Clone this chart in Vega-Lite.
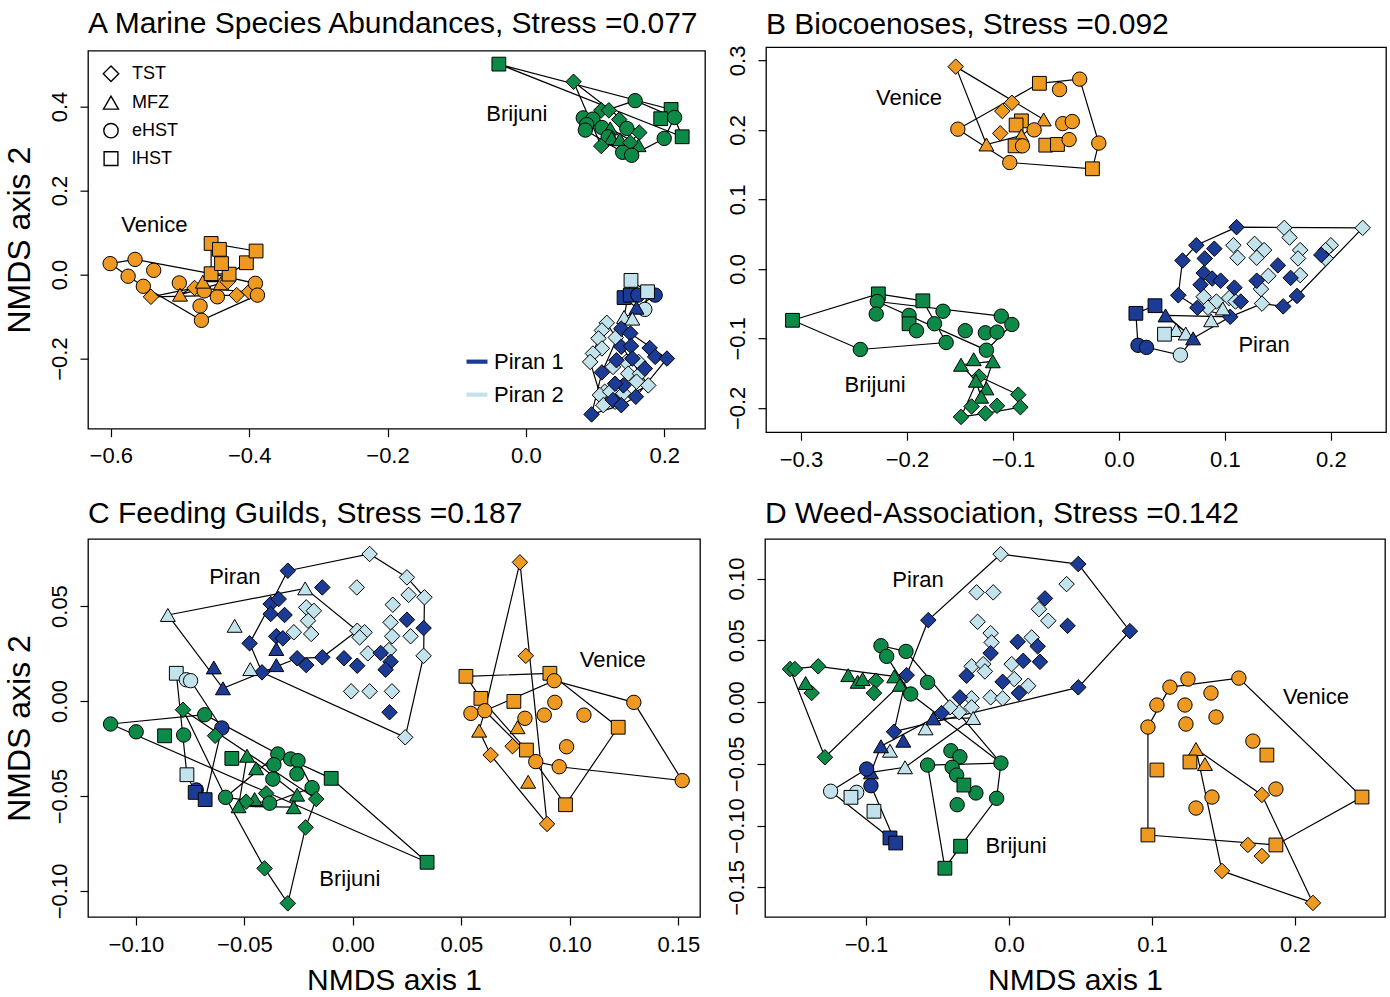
{
  "$schema": "https://vega.github.io/schema/vega-lite/v6.json",
  "background": "white",
  "padding": {"left": 2, "top": 8, "right": 4, "bottom": 0},
  "config": {
    "font": "Liberation Sans",
    "view": {"stroke": "black", "strokeWidth": 1.3},
    "axis": {"domain": false, "grid": false, "tickColor": "black", "tickSize": 8, "tickWidth": 1.2, "labelColor": "black", "labelFontSize": 22, "titleFontWeight": "normal", "titleColor": "black"},
    "axisX": {"labelPadding": 9, "titleFontSize": 30, "titlePadding": 10},
    "axisY": {"labelAngle": -90, "labelPadding": 9, "titleFontSize": 32, "titlePadding": 12},
    "title": {"fontSize": 30, "fontWeight": "normal", "anchor": "start", "frame": "group", "color": "black"},
    "legend": {"labelColor": "black", "labelFont": "Liberation Sans"}
  },
  "datasets": {
    "A_pts": [
      {"s":"Venice","h":"eHST","x":-0.601,"y":0.026},{"s":"Venice","h":"eHST","x":-0.565,"y":0.036},{"s":"Venice","h":"eHST","x":-0.538,"y":0.010},{"s":"Venice","h":"eHST","x":-0.575,"y":-0.004},{"s":"Venice","h":"eHST","x":-0.553,"y":-0.028},{"s":"Venice","h":"TST","x":-0.542,"y":-0.053},{"s":"Venice","h":"eHST","x":-0.501,"y":-0.020},{"s":"Venice","h":"MFZ","x":-0.500,"y":-0.048},{"s":"Venice","h":"TST","x":-0.479,"y":-0.032},{"s":"Venice","h":"eHST","x":-0.465,"y":-0.039},{"s":"Venice","h":"MFZ","x":-0.467,"y":-0.017},{"s":"Venice","h":"eHST","x":-0.471,"y":-0.075},{"s":"Venice","h":"eHST","x":-0.469,"y":-0.109},{"s":"Venice","h":"eHST","x":-0.446,"y":-0.053},{"s":"Venice","h":"MFZ","x":-0.441,"y":-0.021},{"s":"Venice","h":"TST","x":-0.431,"y":-0.017},{"s":"Venice","h":"lHST","x":-0.455,"y":0.002},{"s":"Venice","h":"lHST","x":-0.429,"y":0.001},{"s":"Venice","h":"lHST","x":-0.440,"y":0.026},{"s":"Venice","h":"lHST","x":-0.455,"y":0.074},{"s":"Venice","h":"lHST","x":-0.443,"y":0.060},{"s":"Venice","h":"lHST","x":-0.404,"y":0.028},{"s":"Venice","h":"lHST","x":-0.390,"y":0.056},{"s":"Venice","h":"TST","x":-0.418,"y":-0.049},{"s":"Venice","h":"TST","x":-0.400,"y":-0.041},{"s":"Venice","h":"eHST","x":-0.391,"y":-0.021},{"s":"Venice","h":"eHST","x":-0.388,"y":-0.049},
      {"s":"Brijuni","h":"lHST","x":-0.039,"y":0.501},{"s":"Brijuni","h":"TST","x":0.069,"y":0.459},{"s":"Brijuni","h":"eHST","x":0.158,"y":0.414},{"s":"Brijuni","h":"lHST","x":0.210,"y":0.393},{"s":"Brijuni","h":"lHST","x":0.195,"y":0.371},{"s":"Brijuni","h":"eHST","x":0.215,"y":0.374},{"s":"Brijuni","h":"lHST","x":0.226,"y":0.328},{"s":"Brijuni","h":"eHST","x":0.200,"y":0.324},{"s":"Brijuni","h":"TST","x":0.109,"y":0.391},{"s":"Brijuni","h":"TST","x":0.120,"y":0.391},{"s":"Brijuni","h":"TST","x":0.135,"y":0.369},{"s":"Brijuni","h":"eHST","x":0.083,"y":0.373},{"s":"Brijuni","h":"eHST","x":0.097,"y":0.370},{"s":"Brijuni","h":"eHST","x":0.088,"y":0.357},{"s":"Brijuni","h":"eHST","x":0.086,"y":0.344},{"s":"Brijuni","h":"eHST","x":0.110,"y":0.350},{"s":"Brijuni","h":"eHST","x":0.146,"y":0.348},{"s":"Brijuni","h":"TST","x":0.164,"y":0.338},{"s":"Brijuni","h":"MFZ","x":0.122,"y":0.348},{"s":"Brijuni","h":"eHST","x":0.119,"y":0.328},{"s":"Brijuni","h":"MFZ","x":0.124,"y":0.325},{"s":"Brijuni","h":"MFZ","x":0.136,"y":0.322},{"s":"Brijuni","h":"MFZ","x":0.163,"y":0.308},{"s":"Brijuni","h":"TST","x":0.151,"y":0.314},{"s":"Brijuni","h":"TST","x":0.109,"y":0.306},{"s":"Brijuni","h":"eHST","x":0.140,"y":0.291},{"s":"Brijuni","h":"eHST","x":0.153,"y":0.284},
      {"s":"Piran 2","h":"lHST","x":0.152,"y":-0.014},{"s":"Piran 1","h":"lHST","x":0.142,"y":-0.055},{"s":"Piran 1","h":"lHST","x":0.151,"y":-0.049},{"s":"Piran 1","h":"eHST","x":0.187,"y":-0.049},{"s":"Piran 1","h":"eHST","x":0.162,"y":-0.049},{"s":"Piran 2","h":"lHST","x":0.176,"y":-0.041},{"s":"Piran 2","h":"eHST","x":0.172,"y":-0.083},{"s":"Piran 1","h":"MFZ","x":0.160,"y":-0.079},{"s":"Piran 2","h":"MFZ","x":0.142,"y":-0.101},{"s":"Piran 2","h":"MFZ","x":0.154,"y":-0.105},
      {"s":"Piran 2","h":"TST","x":0.117,"y":-0.115},{"s":"Piran 2","h":"TST","x":0.110,"y":-0.133},{"s":"Piran 2","h":"TST","x":0.105,"y":-0.152},{"s":"Piran 2","h":"TST","x":0.130,"y":-0.150},{"s":"Piran 2","h":"TST","x":0.110,"y":-0.176},{"s":"Piran 2","h":"TST","x":0.097,"y":-0.188},{"s":"Piran 2","h":"TST","x":0.093,"y":-0.208},{"s":"Piran 2","h":"TST","x":0.126,"y":-0.220},{"s":"Piran 2","h":"TST","x":0.145,"y":-0.208},{"s":"Piran 2","h":"TST","x":0.163,"y":-0.208},{"s":"Piran 2","h":"TST","x":0.148,"y":-0.236},{"s":"Piran 2","h":"TST","x":0.165,"y":-0.236},{"s":"Piran 2","h":"TST","x":0.160,"y":-0.255},{"s":"Piran 2","h":"TST","x":0.177,"y":-0.264},{"s":"Piran 2","h":"TST","x":0.114,"y":-0.279},{"s":"Piran 2","h":"TST","x":0.107,"y":-0.287},{"s":"Piran 2","h":"TST","x":0.122,"y":-0.279},{"s":"Piran 2","h":"TST","x":0.141,"y":-0.283},{"s":"Piran 2","h":"TST","x":0.112,"y":-0.311},{"s":"Piran 2","h":"TST","x":0.129,"y":-0.303},
      {"s":"Piran 1","h":"TST","x":0.138,"y":-0.129},{"s":"Piran 1","h":"TST","x":0.151,"y":-0.140},{"s":"Piran 1","h":"TST","x":0.138,"y":-0.172},{"s":"Piran 1","h":"TST","x":0.152,"y":-0.170},{"s":"Piran 1","h":"TST","x":0.179,"y":-0.175},{"s":"Piran 1","h":"TST","x":0.187,"y":-0.196},{"s":"Piran 1","h":"TST","x":0.204,"y":-0.200},{"s":"Piran 1","h":"TST","x":0.131,"y":-0.204},{"s":"Piran 1","h":"TST","x":0.154,"y":-0.200},{"s":"Piran 1","h":"TST","x":0.110,"y":-0.233},{"s":"Piran 1","h":"TST","x":0.172,"y":-0.224},{"s":"Piran 1","h":"TST","x":0.141,"y":-0.264},{"s":"Piran 1","h":"TST","x":0.129,"y":-0.260},{"s":"Piran 1","h":"TST","x":0.159,"y":-0.291},{"s":"Piran 1","h":"TST","x":0.126,"y":-0.299},{"s":"Piran 1","h":"TST","x":0.138,"y":-0.311},{"s":"Piran 1","h":"TST","x":0.095,"y":-0.333}
    ],
    "A_hull": [
      {"g":"V1","i":0,"x":-0.601,"y":0.026},{"g":"V1","i":1,"x":-0.565,"y":0.036},{"g":"V1","i":2,"x":-0.455,"y":0.002},{"g":"V1","i":3,"x":-0.391,"y":-0.021},{"g":"V1","i":4,"x":-0.388,"y":-0.049},{"g":"V1","i":5,"x":-0.469,"y":-0.109},{"g":"V1","i":6,"x":-0.553,"y":-0.028},{"g":"V1","i":7,"x":-0.575,"y":-0.004},{"g":"V1","i":8,"x":-0.601,"y":0.026},
      {"g":"V2","i":0,"x":-0.455,"y":0.074},{"g":"V2","i":1,"x":-0.390,"y":0.056},{"g":"V2","i":2,"x":-0.404,"y":0.028},{"g":"V2","i":3,"x":-0.429,"y":0.001},{"g":"V2","i":4,"x":-0.455,"y":0.002},{"g":"V2","i":5,"x":-0.455,"y":0.074},
      {"g":"V3","i":0,"x":-0.542,"y":-0.053},{"g":"V3","i":1,"x":-0.479,"y":-0.032},{"g":"V3","i":2,"x":-0.400,"y":-0.041},{"g":"V3","i":3,"x":-0.418,"y":-0.049},{"g":"V3","i":4,"x":-0.542,"y":-0.053},
      {"g":"V4","i":0,"x":-0.500,"y":-0.048},{"g":"V4","i":1,"x":-0.467,"y":-0.017},{"g":"V4","i":2,"x":-0.431,"y":-0.017},{"g":"V4","i":3,"x":-0.441,"y":-0.021},{"g":"V4","i":4,"x":-0.500,"y":-0.048},
      {"g":"B1","i":0,"x":-0.039,"y":0.501},{"g":"B1","i":1,"x":0.210,"y":0.393},{"g":"B1","i":2,"x":0.226,"y":0.328},{"g":"B1","i":3,"x":-0.039,"y":0.501},
      {"g":"B2","i":0,"x":0.158,"y":0.414},{"g":"B2","i":1,"x":0.215,"y":0.374},{"g":"B2","i":2,"x":0.200,"y":0.324},{"g":"B2","i":3,"x":0.153,"y":0.284},{"g":"B2","i":4,"x":0.140,"y":0.291},{"g":"B2","i":5,"x":0.086,"y":0.344},{"g":"B2","i":6,"x":0.083,"y":0.373},{"g":"B2","i":7,"x":0.158,"y":0.414},
      {"g":"B3","i":0,"x":0.069,"y":0.459},{"g":"B3","i":1,"x":0.164,"y":0.338},{"g":"B3","i":2,"x":0.151,"y":0.314},{"g":"B3","i":3,"x":0.109,"y":0.306},{"g":"B3","i":4,"x":0.069,"y":0.459},
      {"g":"B4","i":0,"x":0.122,"y":0.348},{"g":"B4","i":1,"x":0.163,"y":0.308},{"g":"B4","i":2,"x":0.136,"y":0.322},{"g":"B4","i":3,"x":0.124,"y":0.325},{"g":"B4","i":4,"x":0.122,"y":0.348},
      {"g":"P1","i":0,"x":0.095,"y":-0.333},{"g":"P1","i":1,"x":0.110,"y":-0.233},{"g":"P1","i":2,"x":0.138,"y":-0.129},{"g":"P1","i":3,"x":0.151,"y":-0.140},{"g":"P1","i":4,"x":0.204,"y":-0.200},{"g":"P1","i":5,"x":0.159,"y":-0.291},{"g":"P1","i":6,"x":0.138,"y":-0.311},{"g":"P1","i":7,"x":0.095,"y":-0.333},
      {"g":"P2","i":0,"x":0.093,"y":-0.208},{"g":"P2","i":1,"x":0.105,"y":-0.152},{"g":"P2","i":2,"x":0.117,"y":-0.115},{"g":"P2","i":3,"x":0.130,"y":-0.150},{"g":"P2","i":4,"x":0.177,"y":-0.264},{"g":"P2","i":5,"x":0.129,"y":-0.303},{"g":"P2","i":6,"x":0.112,"y":-0.311},{"g":"P2","i":7,"x":0.093,"y":-0.208},
      {"g":"P3","i":0,"x":0.142,"y":-0.055},{"g":"P3","i":1,"x":0.187,"y":-0.049},{"g":"P3","i":2,"x":0.160,"y":-0.079},{"g":"P3","i":3,"x":0.142,"y":-0.055},
      {"g":"P4","i":0,"x":0.152,"y":-0.014},{"g":"P4","i":1,"x":0.176,"y":-0.041},{"g":"P4","i":2,"x":0.172,"y":-0.083},{"g":"P4","i":3,"x":0.142,"y":-0.101},{"g":"P4","i":4,"x":0.152,"y":-0.014}
    ],
    "A_lab": [{"t":"Venice","x":-0.537,"y":0.117},{"t":"Brijuni","x":-0.013,"y":0.383}],
    "B_pts": [
      {"s":"Venice","h":"TST","x":-0.154,"y":0.291},{"s":"Venice","h":"lHST","x":-0.075,"y":0.267},{"s":"Venice","h":"eHST","x":-0.037,"y":0.273},{"s":"Venice","h":"eHST","x":-0.056,"y":0.258},{"s":"Venice","h":"TST","x":-0.101,"y":0.239},{"s":"Venice","h":"TST","x":-0.110,"y":0.227},{"s":"Venice","h":"MFZ","x":-0.071,"y":0.215},{"s":"Venice","h":"eHST","x":-0.152,"y":0.201},{"s":"Venice","h":"eHST","x":-0.053,"y":0.209},{"s":"Venice","h":"eHST","x":-0.044,"y":0.212},{"s":"Venice","h":"lHST","x":-0.092,"y":0.213},{"s":"Venice","h":"lHST","x":-0.097,"y":0.207},{"s":"Venice","h":"eHST","x":-0.080,"y":0.200},{"s":"Venice","h":"TST","x":-0.112,"y":0.195},{"s":"Venice","h":"MFZ","x":-0.092,"y":0.192},{"s":"Venice","h":"MFZ","x":-0.125,"y":0.179},{"s":"Venice","h":"lHST","x":-0.098,"y":0.177},{"s":"Venice","h":"eHST","x":-0.091,"y":0.177},{"s":"Venice","h":"lHST","x":-0.069,"y":0.178},{"s":"Venice","h":"lHST","x":-0.058,"y":0.179},{"s":"Venice","h":"eHST","x":-0.047,"y":0.186},{"s":"Venice","h":"eHST","x":-0.019,"y":0.181},{"s":"Venice","h":"eHST","x":-0.103,"y":0.153},{"s":"Venice","h":"lHST","x":-0.025,"y":0.144},
      {"s":"Brijuni","h":"lHST","x":-0.308,"y":-0.074},{"s":"Brijuni","h":"lHST","x":-0.227,"y":-0.036},{"s":"Brijuni","h":"eHST","x":-0.228,"y":-0.047},{"s":"Brijuni","h":"eHST","x":-0.229,"y":-0.065},{"s":"Brijuni","h":"lHST","x":-0.185,"y":-0.046},{"s":"Brijuni","h":"eHST","x":-0.166,"y":-0.061},{"s":"Brijuni","h":"eHST","x":-0.198,"y":-0.067},{"s":"Brijuni","h":"lHST","x":-0.198,"y":-0.079},{"s":"Brijuni","h":"eHST","x":-0.191,"y":-0.089},{"s":"Brijuni","h":"eHST","x":-0.174,"y":-0.079},{"s":"Brijuni","h":"eHST","x":-0.111,"y":-0.068},{"s":"Brijuni","h":"eHST","x":-0.101,"y":-0.080},{"s":"Brijuni","h":"eHST","x":-0.145,"y":-0.089},{"s":"Brijuni","h":"eHST","x":-0.126,"y":-0.092},{"s":"Brijuni","h":"eHST","x":-0.115,"y":-0.091},{"s":"Brijuni","h":"eHST","x":-0.163,"y":-0.106},{"s":"Brijuni","h":"eHST","x":-0.244,"y":-0.116},{"s":"Brijuni","h":"eHST","x":-0.125,"y":-0.117},{"s":"Brijuni","h":"MFZ","x":-0.149,"y":-0.138},{"s":"Brijuni","h":"MFZ","x":-0.137,"y":-0.130},{"s":"Brijuni","h":"MFZ","x":-0.119,"y":-0.133},{"s":"Brijuni","h":"TST","x":-0.132,"y":-0.155},{"s":"Brijuni","h":"MFZ","x":-0.135,"y":-0.161},{"s":"Brijuni","h":"MFZ","x":-0.125,"y":-0.172},{"s":"Brijuni","h":"MFZ","x":-0.130,"y":-0.184},{"s":"Brijuni","h":"TST","x":-0.095,"y":-0.181},{"s":"Brijuni","h":"TST","x":-0.139,"y":-0.198},{"s":"Brijuni","h":"TST","x":-0.115,"y":-0.197},{"s":"Brijuni","h":"TST","x":-0.093,"y":-0.199},{"s":"Brijuni","h":"TST","x":-0.149,"y":-0.213},{"s":"Brijuni","h":"TST","x":-0.126,"y":-0.208},
      {"s":"Piran 2","h":"TST","x":0.156,"y":0.059},{"s":"Piran 2","h":"TST","x":0.161,"y":0.045},{"s":"Piran 2","h":"TST","x":0.230,"y":0.059},{"s":"Piran 2","h":"TST","x":0.108,"y":0.034},{"s":"Piran 2","h":"TST","x":0.112,"y":0.016},{"s":"Piran 2","h":"TST","x":0.128,"y":0.036},{"s":"Piran 2","h":"TST","x":0.137,"y":0.027},{"s":"Piran 2","h":"TST","x":0.130,"y":0.016},{"s":"Piran 2","h":"TST","x":0.171,"y":0.027},{"s":"Piran 2","h":"TST","x":0.169,"y":0.015},{"s":"Piran 2","h":"TST","x":0.200,"y":0.034},{"s":"Piran 2","h":"TST","x":0.195,"y":0.027},{"s":"Piran 2","h":"TST","x":0.195,"y":0.015},{"s":"Piran 2","h":"TST","x":0.141,"y":-0.010},{"s":"Piran 2","h":"TST","x":0.171,"y":-0.009},{"s":"Piran 2","h":"TST","x":0.134,"y":-0.029},{"s":"Piran 2","h":"TST","x":0.135,"y":-0.050},{"s":"Piran 2","h":"TST","x":0.080,"y":-0.040},{"s":"Piran 2","h":"TST","x":0.092,"y":-0.047},{"s":"Piran 2","h":"TST","x":0.104,"y":-0.042},{"s":"Piran 2","h":"TST","x":0.110,"y":-0.047},{"s":"Piran 2","h":"TST","x":0.084,"y":-0.056},
      {"s":"Piran 1","h":"TST","x":0.111,"y":0.060},{"s":"Piran 1","h":"TST","x":0.073,"y":0.034},{"s":"Piran 1","h":"TST","x":0.090,"y":0.029},{"s":"Piran 1","h":"TST","x":0.060,"y":0.012},{"s":"Piran 1","h":"TST","x":0.081,"y":0.015},{"s":"Piran 1","h":"TST","x":0.080,"y":-0.006},{"s":"Piran 1","h":"TST","x":0.088,"y":-0.014},{"s":"Piran 1","h":"TST","x":0.096,"y":-0.017},{"s":"Piran 1","h":"TST","x":0.077,"y":-0.023},{"s":"Piran 1","h":"TST","x":0.109,"y":-0.027},{"s":"Piran 1","h":"TST","x":0.130,"y":-0.017},{"s":"Piran 1","h":"TST","x":0.150,"y":0.005},{"s":"Piran 1","h":"TST","x":0.162,"y":-0.013},{"s":"Piran 1","h":"TST","x":0.056,"y":-0.038},{"s":"Piran 1","h":"TST","x":0.074,"y":-0.056},{"s":"Piran 1","h":"TST","x":0.115,"y":-0.047},{"s":"Piran 1","h":"TST","x":0.105,"y":-0.069},{"s":"Piran 1","h":"TST","x":0.155,"y":-0.054},{"s":"Piran 1","h":"TST","x":0.168,"y":-0.039},{"s":"Piran 1","h":"TST","x":0.191,"y":0.020},
      {"s":"Piran 2","h":"MFZ","x":0.098,"y":-0.057},{"s":"Piran 2","h":"MFZ","x":0.087,"y":-0.074},{"s":"Piran 2","h":"MFZ","x":0.054,"y":-0.088},{"s":"Piran 2","h":"MFZ","x":0.063,"y":-0.093},{"s":"Piran 1","h":"MFZ","x":0.044,"y":-0.067},{"s":"Piran 1","h":"MFZ","x":0.070,"y":-0.100},{"s":"Piran 1","h":"lHST","x":0.016,"y":-0.064},{"s":"Piran 1","h":"lHST","x":0.034,"y":-0.053},{"s":"Piran 2","h":"lHST","x":0.043,"y":-0.094},{"s":"Piran 1","h":"eHST","x":0.018,"y":-0.110},{"s":"Piran 1","h":"eHST","x":0.026,"y":-0.113},{"s":"Piran 2","h":"eHST","x":0.058,"y":-0.124}
    ],
    "B_hull": [
      {"g":"V1","i":0,"x":-0.152,"y":0.201},{"g":"V1","i":1,"x":-0.075,"y":0.267},{"g":"V1","i":2,"x":-0.037,"y":0.273},{"g":"V1","i":3,"x":-0.019,"y":0.181},{"g":"V1","i":4,"x":-0.025,"y":0.144},{"g":"V1","i":5,"x":-0.103,"y":0.153},{"g":"V1","i":6,"x":-0.152,"y":0.201},
      {"g":"V2","i":0,"x":-0.154,"y":0.291},{"g":"V2","i":1,"x":-0.071,"y":0.215},{"g":"V2","i":2,"x":-0.092,"y":0.192},{"g":"V2","i":3,"x":-0.125,"y":0.179},{"g":"V2","i":4,"x":-0.154,"y":0.291},
      {"g":"R1","i":0,"x":-0.308,"y":-0.074},{"g":"R1","i":1,"x":-0.227,"y":-0.036},{"g":"R1","i":2,"x":-0.185,"y":-0.046},{"g":"R1","i":3,"x":-0.163,"y":-0.106},{"g":"R1","i":4,"x":-0.244,"y":-0.116},{"g":"R1","i":5,"x":-0.308,"y":-0.074},
      {"g":"R2","i":0,"x":-0.228,"y":-0.047},{"g":"R2","i":1,"x":-0.111,"y":-0.068},{"g":"R2","i":2,"x":-0.101,"y":-0.080},{"g":"R2","i":3,"x":-0.125,"y":-0.117},{"g":"R2","i":4,"x":-0.228,"y":-0.047},
      {"g":"R3","i":0,"x":-0.149,"y":-0.138},{"g":"R3","i":1,"x":-0.119,"y":-0.133},{"g":"R3","i":2,"x":-0.130,"y":-0.184},{"g":"R3","i":3,"x":-0.135,"y":-0.161},{"g":"R3","i":4,"x":-0.149,"y":-0.138},
      {"g":"R4","i":0,"x":-0.149,"y":-0.213},{"g":"R4","i":1,"x":-0.132,"y":-0.155},{"g":"R4","i":2,"x":-0.095,"y":-0.181},{"g":"R4","i":3,"x":-0.093,"y":-0.199},{"g":"R4","i":4,"x":-0.126,"y":-0.208},{"g":"R4","i":5,"x":-0.149,"y":-0.213},
      {"g":"P1","i":0,"x":0.111,"y":0.060},{"g":"P1","i":1,"x":0.230,"y":0.059},{"g":"P1","i":2,"x":0.168,"y":-0.039},{"g":"P1","i":3,"x":0.155,"y":-0.054},{"g":"P1","i":4,"x":0.135,"y":-0.050},{"g":"P1","i":5,"x":0.105,"y":-0.069},{"g":"P1","i":6,"x":0.074,"y":-0.056},{"g":"P1","i":7,"x":0.056,"y":-0.038},{"g":"P1","i":8,"x":0.060,"y":0.012},{"g":"P1","i":9,"x":0.073,"y":0.034},{"g":"P1","i":10,"x":0.111,"y":0.060},
      {"g":"P2","i":0,"x":0.016,"y":-0.064},{"g":"P2","i":1,"x":0.034,"y":-0.053},{"g":"P2","i":2,"x":0.070,"y":-0.100},{"g":"P2","i":3,"x":0.058,"y":-0.124},{"g":"P2","i":4,"x":0.018,"y":-0.110},{"g":"P2","i":5,"x":0.016,"y":-0.064},
      {"g":"P3","i":0,"x":0.044,"y":-0.067},{"g":"P3","i":1,"x":0.105,"y":-0.069},{"g":"P3","i":2,"x":0.070,"y":-0.100},{"g":"P3","i":3,"x":0.044,"y":-0.067}
    ],
    "B_lab": [{"t":"Venice","x":-0.198,"y":0.246},{"t":"Brijuni","x":-0.230,"y":-0.167},{"t":"Piran","x":0.137,"y":-0.109}],
    "C_pts": [
      {"s":"Piran 2","h":"TST","x":0.0077,"y":0.0774},{"s":"Piran 2","h":"TST","x":0.0249,"y":0.0651},{"s":"Piran 2","h":"TST","x":0.0330,"y":0.0546},{"s":"Piran 2","h":"TST","x":0.0257,"y":0.0559},{"s":"Piran 2","h":"TST","x":0.0184,"y":0.0507},{"s":"Piran 2","h":"TST","x":0.0018,"y":0.0598},{"s":"Piran 2","h":"TST","x":0.0174,"y":0.0414},{"s":"Piran 2","h":"TST","x":0.0266,"y":0.0341},{"s":"Piran 2","h":"TST","x":0.0181,"y":0.0341},{"s":"Piran 2","h":"TST","x":0.0326,"y":0.0238},{"s":"Piran 2","h":"TST","x":0.0166,"y":0.0268},{"s":"Piran 2","h":"TST","x":0.0069,"y":0.0251},{"s":"Piran 2","h":"TST","x":0.0020,"y":0.0370},{"s":"Piran 2","h":"TST","x":0.0054,"y":0.0362},{"s":"Piran 2","h":"TST","x":0.0031,"y":0.0335},{"s":"Piran 2","h":"TST","x":-0.0192,"y":0.0353},{"s":"Piran 2","h":"TST","x":-0.0272,"y":0.0362},{"s":"Piran 2","h":"TST","x":-0.0207,"y":0.0423},{"s":"Piran 2","h":"TST","x":-0.0215,"y":0.0493},{"s":"Piran 2","h":"TST","x":-0.0180,"y":0.0475},{"s":"Piran 2","h":"TST","x":-0.0008,"y":0.0051},{"s":"Piran 2","h":"TST","x":0.0077,"y":0.0051},{"s":"Piran 2","h":"TST","x":0.0180,"y":0.0051},{"s":"Piran 2","h":"TST","x":0.0241,"y":-0.0191},
      {"s":"Piran 1","h":"TST","x":-0.0300,"y":0.0686},{"s":"Piran 1","h":"TST","x":-0.0141,"y":0.0598},{"s":"Piran 1","h":"TST","x":-0.0379,"y":0.0511},{"s":"Piran 1","h":"TST","x":-0.0342,"y":0.0537},{"s":"Piran 1","h":"TST","x":-0.0379,"y":0.0458},{"s":"Piran 1","h":"TST","x":-0.0315,"y":0.0453},{"s":"Piran 1","h":"TST","x":-0.0353,"y":0.0341},{"s":"Piran 1","h":"TST","x":-0.0323,"y":0.0330},{"s":"Piran 1","h":"TST","x":-0.0476,"y":0.0304},{"s":"Piran 1","h":"TST","x":-0.0257,"y":0.0225},{"s":"Piran 1","h":"TST","x":-0.0215,"y":0.0189},{"s":"Piran 1","h":"TST","x":-0.0141,"y":0.0230},{"s":"Piran 1","h":"TST","x":-0.0041,"y":0.0225},{"s":"Piran 1","h":"TST","x":0.0020,"y":0.0186},{"s":"Piran 1","h":"TST","x":0.0249,"y":0.0428},{"s":"Piran 1","h":"TST","x":0.0326,"y":0.0384},{"s":"Piran 1","h":"TST","x":0.0128,"y":0.0253},{"s":"Piran 1","h":"TST","x":0.0174,"y":0.0207},{"s":"Piran 1","h":"TST","x":0.0151,"y":0.0165},{"s":"Piran 1","h":"TST","x":-0.0419,"y":0.0151},{"s":"Piran 1","h":"TST","x":0.0169,"y":-0.0059},
      {"s":"Piran 2","h":"MFZ","x":-0.0220,"y":0.0593},{"s":"Piran 2","h":"MFZ","x":-0.0853,"y":0.0453},{"s":"Piran 2","h":"MFZ","x":-0.0545,"y":0.0396},{"s":"Piran 2","h":"MFZ","x":-0.0473,"y":0.0168},{"s":"Piran 1","h":"MFZ","x":-0.0353,"y":0.0274},{"s":"Piran 1","h":"MFZ","x":-0.0353,"y":0.0189},{"s":"Piran 1","h":"MFZ","x":-0.0641,"y":0.0177},{"s":"Piran 1","h":"MFZ","x":-0.0599,"y":0.0067},
      {"s":"Piran 2","h":"lHST","x":-0.0814,"y":0.0146},{"s":"Piran 2","h":"eHST","x":-0.0768,"y":0.0112},{"s":"Piran 2","h":"eHST","x":-0.0748,"y":0.0107},{"s":"Piran 1","h":"eHST","x":-0.0604,"y":-0.0142},{"s":"Piran 2","h":"lHST","x":-0.0765,"y":-0.0388},{"s":"Piran 1","h":"eHST","x":-0.0722,"y":-0.0468},{"s":"Piran 1","h":"lHST","x":-0.0727,"y":-0.0481},{"s":"Piran 1","h":"lHST","x":-0.0681,"y":-0.0519},
      {"s":"Brijuni","h":"eHST","x":-0.1117,"y":-0.0121},{"s":"Brijuni","h":"eHST","x":-0.0999,"y":-0.0162},{"s":"Brijuni","h":"lHST","x":-0.0868,"y":-0.0183},{"s":"Brijuni","h":"eHST","x":-0.0780,"y":-0.0179},{"s":"Brijuni","h":"TST","x":-0.0783,"y":-0.0046},{"s":"Brijuni","h":"eHST","x":-0.0683,"y":-0.0072},{"s":"Brijuni","h":"TST","x":-0.0635,"y":-0.0183},{"s":"Brijuni","h":"lHST","x":-0.0558,"y":-0.0302},{"s":"Brijuni","h":"MFZ","x":-0.0488,"y":-0.0288},{"s":"Brijuni","h":"MFZ","x":-0.0446,"y":-0.0354},{"s":"Brijuni","h":"eHST","x":-0.0346,"y":-0.0279},{"s":"Brijuni","h":"eHST","x":-0.0364,"y":-0.0335},{"s":"Brijuni","h":"eHST","x":-0.0287,"y":-0.0305},{"s":"Brijuni","h":"eHST","x":-0.0253,"y":-0.0314},{"s":"Brijuni","h":"eHST","x":-0.0258,"y":-0.0384},{"s":"Brijuni","h":"eHST","x":-0.0369,"y":-0.0411},{"s":"Brijuni","h":"lHST","x":-0.0100,"y":-0.0407},{"s":"Brijuni","h":"eHST","x":-0.0188,"y":-0.0456},{"s":"Brijuni","h":"TST","x":-0.0169,"y":-0.0516},{"s":"Brijuni","h":"MFZ","x":-0.0257,"y":-0.0493},{"s":"Brijuni","h":"MFZ","x":-0.0273,"y":-0.0559},{"s":"Brijuni","h":"TST","x":-0.0400,"y":-0.0486},{"s":"Brijuni","h":"eHST","x":-0.0384,"y":-0.0538},{"s":"Brijuni","h":"MFZ","x":-0.0453,"y":-0.0516},{"s":"Brijuni","h":"TST","x":-0.0492,"y":-0.0530},{"s":"Brijuni","h":"MFZ","x":-0.0527,"y":-0.0554},{"s":"Brijuni","h":"eHST","x":-0.0587,"y":-0.0507},{"s":"Brijuni","h":"TST","x":-0.0218,"y":-0.0665},{"s":"Brijuni","h":"TST","x":-0.0407,"y":-0.0881},{"s":"Brijuni","h":"TST","x":-0.0300,"y":-0.1065},{"s":"Brijuni","h":"lHST","x":0.0342,"y":-0.0849},
      {"s":"Venice","h":"TST","x":0.0770,"y":0.0730},{"s":"Venice","h":"TST","x":0.0797,"y":0.0238},{"s":"Venice","h":"lHST","x":0.0521,"y":0.0130},{"s":"Venice","h":"lHST","x":0.0908,"y":0.0146},{"s":"Venice","h":"eHST","x":0.0928,"y":0.0107},{"s":"Venice","h":"eHST","x":0.1295,"y":-0.0007},{"s":"Venice","h":"lHST","x":0.0590,"y":0.0014},{"s":"Venice","h":"lHST","x":0.0742,"y":-0.0002},{"s":"Venice","h":"eHST","x":0.0544,"y":-0.0065},{"s":"Venice","h":"eHST","x":0.0608,"y":-0.0051},{"s":"Venice","h":"eHST","x":0.0931,"y":-0.0007},{"s":"Venice","h":"eHST","x":0.0793,"y":-0.0091},{"s":"Venice","h":"eHST","x":0.0882,"y":-0.0074},{"s":"Venice","h":"eHST","x":0.1065,"y":-0.0074},{"s":"Venice","h":"MFZ","x":0.0759,"y":-0.0138},{"s":"Venice","h":"MFZ","x":0.0582,"y":-0.0156},{"s":"Venice","h":"lHST","x":0.1223,"y":-0.0138},{"s":"Venice","h":"eHST","x":0.0985,"y":-0.0241},{"s":"Venice","h":"TST","x":0.0736,"y":-0.0238},{"s":"Venice","h":"lHST","x":0.0800,"y":-0.0258},{"s":"Venice","h":"eHST","x":0.0843,"y":-0.0319},{"s":"Venice","h":"eHST","x":0.0951,"y":-0.0346},{"s":"Venice","h":"TST","x":0.0635,"y":-0.0284},{"s":"Venice","h":"MFZ","x":0.0808,"y":-0.0425},{"s":"Venice","h":"eHST","x":0.1518,"y":-0.0419},{"s":"Venice","h":"lHST","x":0.0980,"y":-0.0546},{"s":"Venice","h":"TST","x":0.0895,"y":-0.0647}
    ],
    "C_hull": [
      {"g":"P1","i":0,"x":-0.0300,"y":0.0686},{"g":"P1","i":1,"x":0.0077,"y":0.0774},{"g":"P1","i":2,"x":0.0249,"y":0.0651},{"g":"P1","i":3,"x":0.0330,"y":0.0546},{"g":"P1","i":4,"x":0.0326,"y":0.0238},{"g":"P1","i":5,"x":0.0241,"y":-0.0191},{"g":"P1","i":6,"x":-0.0419,"y":0.0151},{"g":"P1","i":7,"x":-0.0476,"y":0.0304},{"g":"P1","i":8,"x":-0.0379,"y":0.0511},{"g":"P1","i":9,"x":-0.0300,"y":0.0686},
      {"g":"P2","i":0,"x":-0.0853,"y":0.0453},{"g":"P2","i":1,"x":-0.0220,"y":0.0593},{"g":"P2","i":2,"x":0.0020,"y":0.0370},{"g":"P2","i":3,"x":-0.0141,"y":0.0230},{"g":"P2","i":4,"x":-0.0257,"y":0.0225},{"g":"P2","i":5,"x":-0.0419,"y":0.0151},{"g":"P2","i":6,"x":-0.0599,"y":0.0067},{"g":"P2","i":7,"x":-0.0853,"y":0.0453},
      {"g":"P3","i":0,"x":-0.0814,"y":0.0146},{"g":"P3","i":1,"x":-0.0748,"y":0.0107},{"g":"P3","i":2,"x":-0.0604,"y":-0.0142},{"g":"P3","i":3,"x":-0.0681,"y":-0.0519},{"g":"P3","i":4,"x":-0.0727,"y":-0.0481},{"g":"P3","i":5,"x":-0.0765,"y":-0.0388},{"g":"P3","i":6,"x":-0.0814,"y":0.0146},
      {"g":"R1","i":0,"x":-0.1117,"y":-0.0121},{"g":"R1","i":1,"x":-0.0683,"y":-0.0072},{"g":"R1","i":2,"x":-0.0346,"y":-0.0279},{"g":"R1","i":3,"x":-0.0100,"y":-0.0407},{"g":"R1","i":4,"x":0.0342,"y":-0.0849},{"g":"R1","i":5,"x":-0.1117,"y":-0.0121},
      {"g":"R2","i":0,"x":-0.0783,"y":-0.0046},{"g":"R2","i":1,"x":-0.0169,"y":-0.0516},{"g":"R2","i":2,"x":-0.0218,"y":-0.0665},{"g":"R2","i":3,"x":-0.0300,"y":-0.1065},{"g":"R2","i":4,"x":-0.0407,"y":-0.0881},{"g":"R2","i":5,"x":-0.0587,"y":-0.0507},{"g":"R2","i":6,"x":-0.0783,"y":-0.0046},
      {"g":"R3","i":0,"x":-0.0587,"y":-0.0507},{"g":"R3","i":1,"x":-0.0346,"y":-0.0279},{"g":"R3","i":2,"x":-0.0253,"y":-0.0314},{"g":"R3","i":3,"x":-0.0188,"y":-0.0456},{"g":"R3","i":4,"x":-0.0384,"y":-0.0538},{"g":"R3","i":5,"x":-0.0587,"y":-0.0507},
      {"g":"R4","i":0,"x":-0.0527,"y":-0.0554},{"g":"R4","i":1,"x":-0.0488,"y":-0.0288},{"g":"R4","i":2,"x":-0.0257,"y":-0.0493},{"g":"R4","i":3,"x":-0.0273,"y":-0.0559},{"g":"R4","i":4,"x":-0.0527,"y":-0.0554},
      {"g":"V1","i":0,"x":0.0608,"y":-0.0051},{"g":"V1","i":1,"x":0.0928,"y":0.0107},{"g":"V1","i":2,"x":0.1295,"y":-0.0007},{"g":"V1","i":3,"x":0.1518,"y":-0.0419},{"g":"V1","i":4,"x":0.0951,"y":-0.0346},{"g":"V1","i":5,"x":0.0843,"y":-0.0319},{"g":"V1","i":6,"x":0.0608,"y":-0.0051},
      {"g":"V2","i":0,"x":0.0521,"y":0.0130},{"g":"V2","i":1,"x":0.0908,"y":0.0146},{"g":"V2","i":2,"x":0.1223,"y":-0.0138},{"g":"V2","i":3,"x":0.0980,"y":-0.0546},{"g":"V2","i":4,"x":0.0800,"y":-0.0258},{"g":"V2","i":5,"x":0.0590,"y":0.0014},{"g":"V2","i":6,"x":0.0521,"y":0.0130},
      {"g":"V3","i":0,"x":0.0770,"y":0.0730},{"g":"V3","i":1,"x":0.0895,"y":-0.0647},{"g":"V3","i":2,"x":0.0635,"y":-0.0284},{"g":"V3","i":3,"x":0.0582,"y":-0.0156},{"g":"V3","i":4,"x":0.0608,"y":-0.0051},{"g":"V3","i":5,"x":0.0770,"y":0.0730}
    ],
    "C_lab": [{"t":"Piran","x":-0.0544,"y":0.0653},{"t":"Venice","x":0.1198,"y":0.0216},{"t":"Brijuni","x":-0.0014,"y":-0.0937}],
    "D_pts": [
      {"s":"Piran 2","h":"TST","x":-0.0058,"y":0.1197},{"s":"Piran 2","h":"TST","x":0.0403,"y":0.0955},{"s":"Piran 2","h":"TST","x":-0.0226,"y":0.0888},{"s":"Piran 2","h":"TST","x":-0.0110,"y":0.0888},{"s":"Piran 2","h":"TST","x":0.0210,"y":0.0752},{"s":"Piran 2","h":"TST","x":0.0275,"y":0.0658},{"s":"Piran 2","h":"TST","x":-0.0219,"y":0.0650},{"s":"Piran 2","h":"TST","x":-0.0128,"y":0.0558},{"s":"Piran 2","h":"TST","x":-0.0121,"y":0.0483},{"s":"Piran 2","h":"TST","x":0.0159,"y":0.0523},{"s":"Piran 2","h":"TST","x":0.0019,"y":0.0307},{"s":"Piran 2","h":"TST","x":-0.0261,"y":0.0289},{"s":"Piran 2","h":"TST","x":-0.0180,"y":0.0307},{"s":"Piran 2","h":"TST","x":-0.0168,"y":0.0248},{"s":"Piran 2","h":"TST","x":0.0037,"y":0.0186},{"s":"Piran 2","h":"TST","x":0.0135,"y":0.0132},{"s":"Piran 2","h":"TST","x":-0.0128,"y":0.0038},{"s":"Piran 2","h":"TST","x":-0.0044,"y":0.0030},{"s":"Piran 2","h":"TST","x":-0.0261,"y":0.0030},{"s":"Piran 2","h":"TST","x":-0.0261,"y":-0.0043},{"s":"Piran 2","h":"TST","x":-0.0348,"y":-0.0083},{"s":"Piran 2","h":"TST","x":-0.0413,"y":-0.0043},
      {"s":"Piran 1","h":"TST","x":0.0485,"y":0.1117},{"s":"Piran 1","h":"TST","x":0.0252,"y":0.0839},{"s":"Piran 1","h":"TST","x":0.0410,"y":0.0617},{"s":"Piran 1","h":"TST","x":-0.0564,"y":0.0663},{"s":"Piran 1","h":"TST","x":0.0061,"y":0.0488},{"s":"Piran 1","h":"TST","x":0.0201,"y":0.0451},{"s":"Piran 1","h":"TST","x":-0.0128,"y":0.0396},{"s":"Piran 1","h":"TST","x":0.0100,"y":0.0334},{"s":"Piran 1","h":"TST","x":0.0217,"y":0.0326},{"s":"Piran 1","h":"TST","x":-0.0296,"y":0.0213},{"s":"Piran 1","h":"TST","x":-0.0044,"y":0.0164},{"s":"Piran 1","h":"TST","x":0.0070,"y":0.0073},{"s":"Piran 1","h":"TST","x":-0.0343,"y":0.0038},{"s":"Piran 1","h":"TST","x":0.0485,"y":0.0119},{"s":"Piran 1","h":"TST","x":-0.0471,"y":-0.0089},{"s":"Piran 1","h":"TST","x":-0.0715,"y":0.0218},{"s":"Piran 1","h":"TST","x":-0.0804,"y":-0.0240},{"s":"Piran 1","h":"TST","x":0.0846,"y":0.0574},
      {"s":"Piran 2","h":"MFZ","x":-0.0250,"y":-0.0129},{"s":"Piran 2","h":"MFZ","x":-0.0583,"y":-0.0213},{"s":"Piran 2","h":"MFZ","x":-0.0832,"y":-0.0394},{"s":"Piran 2","h":"MFZ","x":-0.0727,"y":-0.0528},{"s":"Piran 1","h":"MFZ","x":-0.0529,"y":-0.0132},{"s":"Piran 1","h":"MFZ","x":-0.0895,"y":-0.0358},{"s":"Piran 1","h":"MFZ","x":-0.0739,"y":-0.0313},{"s":"Piran 1","h":"MFZ","x":-0.0965,"y":-0.0569},{"s":"Piran 1","h":"eHST","x":-0.0995,"y":-0.0542},{"s":"Piran 1","h":"eHST","x":-0.0965,"y":-0.0677},{"s":"Piran 2","h":"eHST","x":-0.1247,"y":-0.0722},{"s":"Piran 2","h":"eHST","x":-0.1065,"y":-0.0731},{"s":"Piran 2","h":"lHST","x":-0.1105,"y":-0.0771},{"s":"Piran 2","h":"lHST","x":-0.0944,"y":-0.0884},{"s":"Piran 1","h":"lHST","x":-0.0832,"y":-0.1100},{"s":"Piran 1","h":"lHST","x":-0.0792,"y":-0.1141},
      {"s":"Brijuni","h":"TST","x":-0.1531,"y":0.0267},{"s":"Brijuni","h":"TST","x":-0.1497,"y":0.0267},{"s":"Brijuni","h":"TST","x":-0.1334,"y":0.0289},{"s":"Brijuni","h":"TST","x":-0.1380,"y":0.0073},{"s":"Brijuni","h":"TST","x":-0.0930,"y":0.0172},{"s":"Brijuni","h":"TST","x":-0.0944,"y":0.0073},{"s":"Brijuni","h":"TST","x":-0.1287,"y":-0.0447},{"s":"Brijuni","h":"MFZ","x":-0.1124,"y":0.0218},{"s":"Brijuni","h":"MFZ","x":-0.1058,"y":0.0164},{"s":"Brijuni","h":"MFZ","x":-0.1023,"y":0.0186},{"s":"Brijuni","h":"MFZ","x":-0.1422,"y":0.0154},{"s":"Brijuni","h":"MFZ","x":-0.0802,"y":0.0208},{"s":"Brijuni","h":"MFZ","x":-0.0762,"y":0.0140},{"s":"Brijuni","h":"eHST","x":-0.0895,"y":0.0456},{"s":"Brijuni","h":"eHST","x":-0.0855,"y":0.0370},{"s":"Brijuni","h":"eHST","x":-0.0720,"y":0.0410},{"s":"Brijuni","h":"eHST","x":-0.0569,"y":0.0159},{"s":"Brijuni","h":"eHST","x":-0.0687,"y":0.0065},{"s":"Brijuni","h":"eHST","x":-0.0406,"y":-0.0394},{"s":"Brijuni","h":"eHST","x":-0.0343,"y":-0.0443},{"s":"Brijuni","h":"eHST","x":-0.0569,"y":-0.0510},{"s":"Brijuni","h":"eHST","x":-0.0397,"y":-0.0528},{"s":"Brijuni","h":"eHST","x":-0.0366,"y":-0.0591},{"s":"Brijuni","h":"eHST","x":-0.0056,"y":-0.0494},{"s":"Brijuni","h":"eHST","x":-0.0231,"y":-0.0736},{"s":"Brijuni","h":"eHST","x":-0.0086,"y":-0.0779},{"s":"Brijuni","h":"eHST","x":-0.0362,"y":-0.0831},{"s":"Brijuni","h":"lHST","x":-0.0315,"y":-0.0672},{"s":"Brijuni","h":"lHST","x":-0.0338,"y":-0.1167},{"s":"Brijuni","h":"lHST","x":-0.0448,"y":-0.1345},
      {"s":"Venice","h":"eHST","x":0.1126,"y":0.0121},{"s":"Venice","h":"eHST","x":0.1252,"y":0.0186},{"s":"Venice","h":"eHST","x":0.1413,"y":0.0073},{"s":"Venice","h":"eHST","x":0.1608,"y":0.0194},{"s":"Venice","h":"eHST","x":0.1035,"y":-0.0024},{"s":"Venice","h":"eHST","x":0.1231,"y":-0.0024},{"s":"Venice","h":"eHST","x":0.1448,"y":-0.0121},{"s":"Venice","h":"eHST","x":0.0972,"y":-0.0202},{"s":"Venice","h":"eHST","x":0.1238,"y":-0.0178},{"s":"Venice","h":"eHST","x":0.1706,"y":-0.0316},{"s":"Venice","h":"eHST","x":0.1420,"y":-0.0769},{"s":"Venice","h":"eHST","x":0.1308,"y":-0.0858},{"s":"Venice","h":"eHST","x":0.1867,"y":-0.0704},{"s":"Venice","h":"MFZ","x":0.1308,"y":-0.0380},{"s":"Venice","h":"MFZ","x":0.1371,"y":-0.0502},{"s":"Venice","h":"lHST","x":0.1266,"y":-0.0485},{"s":"Venice","h":"lHST","x":0.1804,"y":-0.0429},{"s":"Venice","h":"lHST","x":0.1035,"y":-0.0550},{"s":"Venice","h":"lHST","x":0.0972,"y":-0.1076},{"s":"Venice","h":"lHST","x":0.1867,"y":-0.1157},{"s":"Venice","h":"lHST","x":0.2469,"y":-0.0769},{"s":"Venice","h":"TST","x":0.1769,"y":-0.0752},{"s":"Venice","h":"TST","x":0.1671,"y":-0.1157},{"s":"Venice","h":"TST","x":0.1769,"y":-0.1246},{"s":"Venice","h":"TST","x":0.1490,"y":-0.1367},{"s":"Venice","h":"TST","x":0.2126,"y":-0.1626}
    ],
    "D_hull": [
      {"g":"P1","i":0,"x":-0.0058,"y":0.1197},{"g":"P1","i":1,"x":0.0485,"y":0.1117},{"g":"P1","i":2,"x":0.0846,"y":0.0574},{"g":"P1","i":3,"x":0.0485,"y":0.0119},{"g":"P1","i":4,"x":-0.0804,"y":-0.0240},{"g":"P1","i":5,"x":-0.0715,"y":0.0218},{"g":"P1","i":6,"x":-0.0564,"y":0.0663},{"g":"P1","i":7,"x":-0.0058,"y":0.1197},
      {"g":"P2","i":0,"x":-0.1247,"y":-0.0722},{"g":"P2","i":1,"x":-0.0995,"y":-0.0542},{"g":"P2","i":2,"x":-0.0965,"y":-0.0677},{"g":"P2","i":3,"x":-0.0792,"y":-0.1141},{"g":"P2","i":4,"x":-0.0832,"y":-0.1100},{"g":"P2","i":5,"x":-0.1247,"y":-0.0722},
      {"g":"P3","i":0,"x":-0.0965,"y":-0.0569},{"g":"P3","i":1,"x":-0.0895,"y":-0.0358},{"g":"P3","i":2,"x":-0.0529,"y":-0.0132},{"g":"P3","i":3,"x":-0.0250,"y":-0.0129},{"g":"P3","i":4,"x":-0.0727,"y":-0.0528},{"g":"P3","i":5,"x":-0.0965,"y":-0.0569},
      {"g":"R1","i":0,"x":-0.1531,"y":0.0267},{"g":"R1","i":1,"x":-0.1334,"y":0.0289},{"g":"R1","i":2,"x":-0.0802,"y":0.0208},{"g":"R1","i":3,"x":-0.0762,"y":0.0140},{"g":"R1","i":4,"x":-0.1287,"y":-0.0447},{"g":"R1","i":5,"x":-0.1531,"y":0.0267},
      {"g":"R2","i":0,"x":-0.0895,"y":0.0456},{"g":"R2","i":1,"x":-0.0720,"y":0.0410},{"g":"R2","i":2,"x":-0.0056,"y":-0.0494},{"g":"R2","i":3,"x":-0.0687,"y":0.0065},{"g":"R2","i":4,"x":-0.0855,"y":0.0370},{"g":"R2","i":5,"x":-0.0895,"y":0.0456},
      {"g":"R3","i":0,"x":-0.0569,"y":-0.0510},{"g":"R3","i":1,"x":-0.0056,"y":-0.0494},{"g":"R3","i":2,"x":-0.0086,"y":-0.0779},{"g":"R3","i":3,"x":-0.0338,"y":-0.1167},{"g":"R3","i":4,"x":-0.0448,"y":-0.1345},{"g":"R3","i":5,"x":-0.0569,"y":-0.0510},
      {"g":"V1","i":0,"x":0.1126,"y":0.0121},{"g":"V1","i":1,"x":0.1608,"y":0.0194},{"g":"V1","i":2,"x":0.2469,"y":-0.0769},{"g":"V1","i":3,"x":0.1867,"y":-0.1157},{"g":"V1","i":4,"x":0.0972,"y":-0.1076},{"g":"V1","i":5,"x":0.0972,"y":-0.0202},{"g":"V1","i":6,"x":0.1126,"y":0.0121},
      {"g":"V2","i":0,"x":0.1308,"y":-0.0380},{"g":"V2","i":1,"x":0.1769,"y":-0.0752},{"g":"V2","i":2,"x":0.2126,"y":-0.1626},{"g":"V2","i":3,"x":0.1490,"y":-0.1367},{"g":"V2","i":4,"x":0.1308,"y":-0.0380}
    ],
    "D_lab": [{"t":"Piran","x":-0.0636,"y":0.0987},{"t":"Venice","x":0.2147,"y":0.0040},{"t":"Brijuni","x":0.0049,"y":-0.1165}]
  },
  "resolve": {"scale": {"color": "independent", "shape": "independent", "size": "independent"}, "legend": {"color": "independent", "shape": "independent", "size": "independent"}},
  "spacing": 27,
  "vconcat": [
    {
      "spacing": 19,
      "center": true,
      "resolve": {"scale": {"color": "independent", "shape": "independent", "size": "independent"}, "legend": {"color": "independent", "shape": "independent", "size": "independent"}},
      "hconcat": [
        {
          "width": 617, "height": 378,
          "title": {"text": "A Marine Species Abundances, Stress =0.077", "offset": 12},
          "encoding": {
            "x": {"field": "x", "type": "quantitative", "scale": {"domain": [-0.633, 0.259], "nice": false, "zero": false}, "axis": {"values": [-0.6, -0.4, -0.2, 0, 0.2], "format": ".1f", "title": null}},
            "y": {"field": "y", "type": "quantitative", "scale": {"domain": [-0.367, 0.533], "nice": false, "zero": false}, "axis": {"values": [-0.2, 0, 0.2, 0.4], "format": ".1f", "title": "NMDS axis 2"}}
          },
          "layer": [
            {"data": {"name": "A_hull"}, "mark": {"type": "line", "color": "black", "strokeWidth": 1.2}, "encoding": {"detail": {"field": "g"}, "order": {"field": "i", "type": "quantitative"}}},
            {"data": {"name": "A_pts"}, "mark": {"type": "point", "filled": true, "stroke": "black", "strokeWidth": 1, "opacity": 1},
             "encoding": {
               "color": {"field": "s", "type": "nominal", "scale": {"domain": ["Venice", "Brijuni", "Piran 1", "Piran 2"], "range": ["#EE9A22", "#0E8A48", "#1C3B94", "#C2E2EC"]},
                 "legend": {"title": null, "values": ["Piran 1", "Piran 2"], "orient": "none", "legendX": 378, "legendY": 300, "symbolType": "M-1,-0.2H1V0.2H-1Z", "symbolSize": 440, "symbolStrokeWidth": 0, "labelFontSize": 22, "rowPadding": 11, "labelOffset": 6}},
               "shape": {"field": "h", "type": "nominal", "scale": {"domain": ["TST", "MFZ", "eHST", "lHST"], "range": ["diamond", "triangle-up", "circle", "square"]},
                 "legend": {"title": null, "orient": "top-left", "offset": 14, "symbolFillColor": "white", "symbolStrokeColor": "black", "symbolStrokeWidth": 1.4, "symbolSize": 220, "labelFontSize": 18, "rowPadding": 8, "labelOffset": 12}},
               "size": {"field": "h", "type": "nominal", "scale": {"domain": ["TST", "MFZ", "eHST", "lHST"], "range": [240, 190, 170, 150]},
                 "legend": {"title": null, "orient": "top-left", "offset": 14, "symbolFillColor": "white", "symbolStrokeColor": "black", "symbolStrokeWidth": 1.4, "labelFontSize": 18, "rowPadding": 8, "labelOffset": 12}}
             }},
            {"data": {"name": "A_lab"}, "mark": {"type": "text", "fontSize": 22, "color": "black"}, "encoding": {"text": {"field": "t"}}}
          ]
        },
        {
          "width": 620, "height": 385,
          "title": {"text": "B Biocoenoses, Stress =0.092", "offset": 5},
          "encoding": {
            "x": {"field": "x", "type": "quantitative", "scale": {"domain": [-0.333, 0.252], "nice": false, "zero": false}, "axis": {"values": [-0.3, -0.2, -0.1, 0, 0.1, 0.2], "format": ".1f", "title": null}},
            "y": {"field": "y", "type": "quantitative", "scale": {"domain": [-0.235, 0.319], "nice": false, "zero": false}, "axis": {"values": [-0.2, -0.1, 0, 0.1, 0.2, 0.3], "format": ".1f", "title": null}}
          },
          "layer": [
            {"data": {"name": "B_hull"}, "mark": {"type": "line", "color": "black", "strokeWidth": 1.2}, "encoding": {"detail": {"field": "g"}, "order": {"field": "i", "type": "quantitative"}}},
            {"data": {"name": "B_pts"}, "mark": {"type": "point", "filled": true, "stroke": "black", "strokeWidth": 1, "opacity": 1},
             "encoding": {
               "color": {"field": "s", "type": "nominal", "scale": {"domain": ["Venice", "Brijuni", "Piran 1", "Piran 2"], "range": ["#EE9A22", "#0E8A48", "#1C3B94", "#C2E2EC"]}, "legend": null},
               "shape": {"field": "h", "type": "nominal", "scale": {"domain": ["TST", "MFZ", "eHST", "lHST"], "range": ["diamond", "triangle-up", "circle", "square"]}, "legend": null},
               "size": {"field": "h", "type": "nominal", "scale": {"domain": ["TST", "MFZ", "eHST", "lHST"], "range": [240, 190, 170, 150]}, "legend": null}
             }},
            {"data": {"name": "B_lab"}, "mark": {"type": "text", "fontSize": 22, "color": "black"}, "encoding": {"text": {"field": "t"}}}
          ]
        }
      ]
    },
    {
      "spacing": 23,
      "resolve": {"scale": {"color": "independent", "shape": "independent", "size": "independent"}, "legend": {"color": "independent", "shape": "independent", "size": "independent"}},
      "hconcat": [
        {
          "width": 612, "height": 378,
          "title": {"text": "C Feeding Guilds, Stress =0.187", "offset": 10},
          "encoding": {
            "x": {"field": "x", "type": "quantitative", "scale": {"domain": [-0.1221, 0.160], "nice": false, "zero": false}, "axis": {"values": [-0.1, -0.05, 0, 0.05, 0.1, 0.15], "format": ".2f", "title": "NMDS axis 1"}},
            "y": {"field": "y", "type": "quantitative", "scale": {"domain": [-0.1137, 0.0853], "nice": false, "zero": false}, "axis": {"values": [-0.1, -0.05, 0, 0.05], "format": ".2f", "title": "NMDS axis 2"}}
          },
          "layer": [
            {"data": {"name": "C_hull"}, "mark": {"type": "line", "color": "black", "strokeWidth": 1.2}, "encoding": {"detail": {"field": "g"}, "order": {"field": "i", "type": "quantitative"}}},
            {"data": {"name": "C_pts"}, "mark": {"type": "point", "filled": true, "stroke": "black", "strokeWidth": 1, "opacity": 1},
             "encoding": {
               "color": {"field": "s", "type": "nominal", "scale": {"domain": ["Venice", "Brijuni", "Piran 1", "Piran 2"], "range": ["#EE9A22", "#0E8A48", "#1C3B94", "#C2E2EC"]}, "legend": null},
               "shape": {"field": "h", "type": "nominal", "scale": {"domain": ["TST", "MFZ", "eHST", "lHST"], "range": ["diamond", "triangle-up", "circle", "square"]}, "legend": null},
               "size": {"field": "h", "type": "nominal", "scale": {"domain": ["TST", "MFZ", "eHST", "lHST"], "range": [240, 190, 170, 150]}, "legend": null}
             }},
            {"data": {"name": "C_lab"}, "mark": {"type": "text", "fontSize": 22, "color": "black"}, "encoding": {"text": {"field": "t"}}}
          ]
        },
        {
          "width": 620, "height": 378,
          "title": {"text": "D Weed-Association, Stress =0.142", "offset": 10},
          "encoding": {
            "x": {"field": "x", "type": "quantitative", "scale": {"domain": [-0.1706, 0.263], "nice": false, "zero": false}, "axis": {"values": [-0.1, 0, 0.1, 0.2], "format": ".1f", "title": "NMDS axis 1"}},
            "y": {"field": "y", "type": "quantitative", "scale": {"domain": [-0.174, 0.132], "nice": false, "zero": false}, "axis": {"values": [-0.15, -0.1, -0.05, 0, 0.05, 0.1], "format": ".2f", "title": null}}
          },
          "layer": [
            {"data": {"name": "D_hull"}, "mark": {"type": "line", "color": "black", "strokeWidth": 1.2}, "encoding": {"detail": {"field": "g"}, "order": {"field": "i", "type": "quantitative"}}},
            {"data": {"name": "D_pts"}, "mark": {"type": "point", "filled": true, "stroke": "black", "strokeWidth": 1, "opacity": 1},
             "encoding": {
               "color": {"field": "s", "type": "nominal", "scale": {"domain": ["Venice", "Brijuni", "Piran 1", "Piran 2"], "range": ["#EE9A22", "#0E8A48", "#1C3B94", "#C2E2EC"]}, "legend": null},
               "shape": {"field": "h", "type": "nominal", "scale": {"domain": ["TST", "MFZ", "eHST", "lHST"], "range": ["diamond", "triangle-up", "circle", "square"]}, "legend": null},
               "size": {"field": "h", "type": "nominal", "scale": {"domain": ["TST", "MFZ", "eHST", "lHST"], "range": [240, 190, 170, 150]}, "legend": null}
             }},
            {"data": {"name": "D_lab"}, "mark": {"type": "text", "fontSize": 22, "color": "black"}, "encoding": {"text": {"field": "t"}}}
          ]
        }
      ]
    }
  ]
}
